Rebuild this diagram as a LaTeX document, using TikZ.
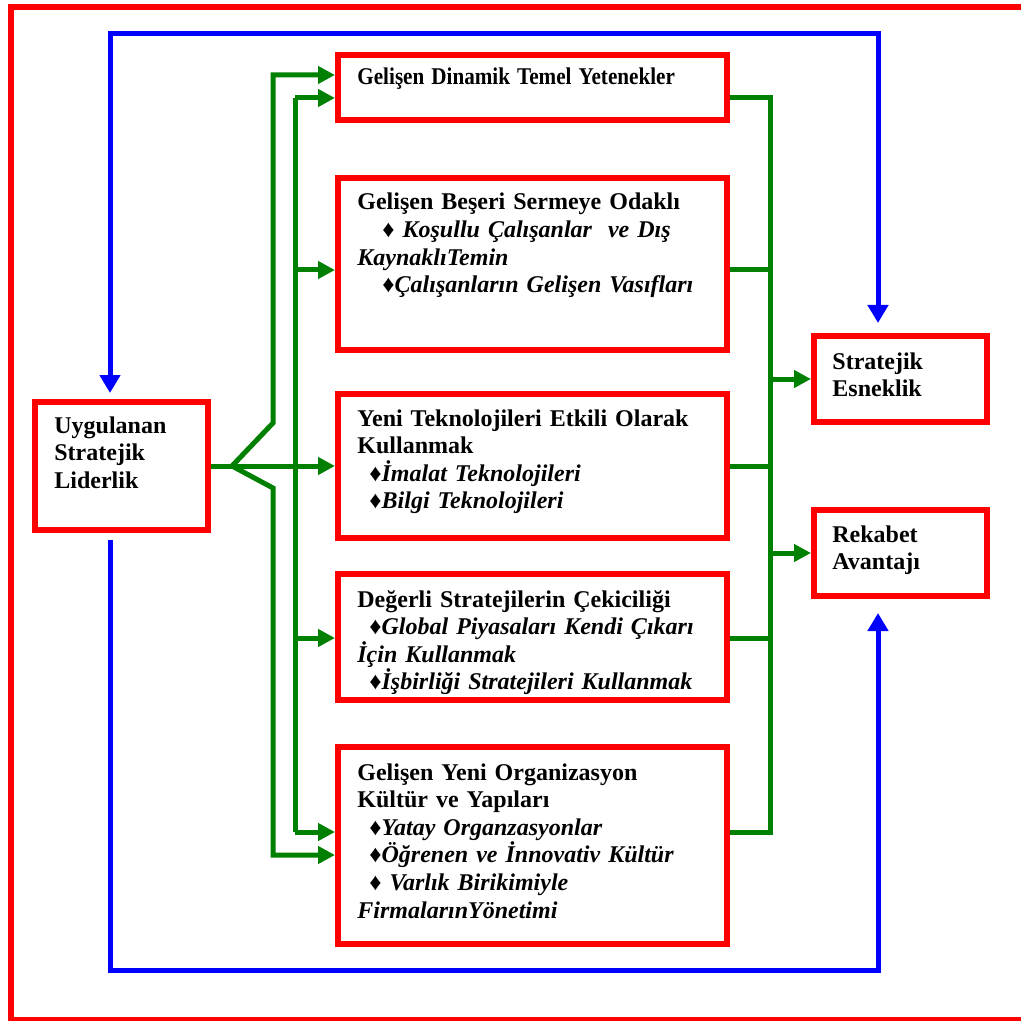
\documentclass[tikz,border=0pt]{standalone}
\usepackage{graphicx}
\usepackage{fontspec}
\setmainfont{Liberation Serif}
\usetikzlibrary{arrows.meta}
\definecolor{gr}{RGB}{0,128,0}
\begin{document}
\begin{tikzpicture}[x=0.5pt,y=-0.5pt,
  box/.style={draw=red,line width=3pt,minimum width=194.5pt,inner sep=0pt},
  sbox/.style={box,minimum width=86.5pt},
  gline/.style={draw=gr,line width=2.5pt},
  gtip/.style={gline,-{Triangle[length=8.5pt,width=8.5pt]}},
  bline/.style={draw=blue,line width=2.5pt},
  txt/.style={anchor=base west,inner sep=0pt,text width=185pt,align=left,
    font=\fontsize{12pt}{13.8pt}\selectfont\bfseries},
  stxt/.style={txt,text width=75pt}]
\useasboundingbox (0,0) rectangle (1021,1021);
% outer frame
\draw[red,line width=3pt] (1035,7) -- (11,7) -- (11,1020) -- (1035,1020);
% boxes
\node[box,minimum height=32.5pt] (b1) at (532.5,87.5) {};
\node[box,minimum height=86pt] (b2) at (532.5,264) {};
\node[box,minimum height=72pt] (b3) at (532.5,466) {};
\node[box,minimum height=63pt] (b4) at (532.5,637) {};
\node[box,minimum height=98.5pt] (b5) at (532.5,845.5) {};
\node[sbox,minimum height=64pt] (lb) at (121.5,466) {};
\node[sbox,minimum height=43pt] (sb) at (900.5,379) {};
\node[sbox,minimum height=43pt] (rb) at (900.5,553) {};
% texts
\node[txt] (t1) at (357,85) {\scalebox{0.881}[1]{Gelişen Dinamik Temel Yetenekler}};
\node[txt] (t2) at (357,210) {Gelişen Beşeri Sermeye Odaklı\\
  \hspace*{12.5pt}♦\textit{ Koşullu Çalışanlar\ \ ve Dış}\\
  \textit{KaynaklıTemin}\\
  \hspace*{12.5pt}♦\textit{Çalışanların Gelişen Vasıfları}};
\node[txt] (t3) at (357,426) {Yeni Teknolojileri Etkili Olarak\\
  Kullanmak\\
  \hspace*{6pt}♦\textit{İmalat Teknolojileri}\\
  \hspace*{6pt}♦\textit{Bilgi Teknolojileri}};
\node[txt] (t4) at (357,607) {Değerli Stratejilerin Çekiciliği\\
  \hspace*{6pt}♦\textit{Global Piyasaları Kendi Çıkarı}\\
  \textit{İçin Kullanmak}\\
  \hspace*{6pt}♦\textit{İşbirliği Stratejileri Kullanmak}};
\node[txt] (t5) at (357,780) {Gelişen Yeni Organizasyon\\
  Kültür ve Yapıları\\
  \hspace*{6pt}♦\textit{Yatay Organzasyonlar}\\
  \hspace*{6pt}♦\textit{Öğrenen ve İnnovativ Kültür}\\
  \hspace*{6pt}♦\textit{ Varlık Birikimiyle}\\
  \textit{FirmalarınYönetimi}};
\node[stxt] (tl1) at (54,433) {Uygulanan\\Stratejik\\Liderlik};
\node[stxt] (ts) at (832,369) {Stratejik\\Esneklik};
\node[stxt] (tr) at (832,542) {Rekabet\\Avantajı};
% coordinates
\coordinate (fork) at (232,466);
\coordinate (ou) at (273,423);
\coordinate (od) at (273,488);
\coordinate (o1) at (273,75);
\coordinate (o5) at (273,855);
\coordinate (i1) at (295,98);
\coordinate (i2) at (295,270);
\coordinate (i4) at (295,638);
\coordinate (i5) at (295,832);
\coordinate (r1) at (770,98);
\coordinate (r2) at (770,270);
\coordinate (r3) at (770,466);
\coordinate (r4) at (770,638);
\coordinate (r5) at (770,832);
\coordinate (rs) at (770,379);
\coordinate (rr) at (770,553);
\coordinate (ctl) at (110,34);
\coordinate (ctr) at (878,34);
\coordinate (cbl) at (110,970);
\coordinate (cbr) at (878,970);
% green left
\draw[gline] (lb.east) -- (fork);
\draw[gtip] (fork) -- (b3.west);
\draw[gtip] (fork) -- (ou) -- (o1) -- (b1.west |- o1);
\draw[gtip] (fork) -- (od) -- (o5) -- (b5.west |- o5);
\draw[gline] (i1) -- (i5);
\draw[gtip] (i1) -- (b1.west |- i1);
\draw[gtip] (i2) -- (b2.west |- i2);
\draw[gtip] (i4) -- (b4.west |- i4);
\draw[gtip] (i5) -- (b5.west |- i5);
% green right
\draw[gline] (b1.east |- r1) -- (r1) -- (r5) -- (b5.east |- r5);
\draw[gline] (b2.east |- r2) -- (r2);
\draw[gline] (b3.east |- r3) -- (r3);
\draw[gline] (b4.east |- r4) -- (r4);
\draw[gtip] (rs) -- (sb.west);
\draw[gtip] (rr) -- (rb.west);
% blue
\draw[bline,{Triangle[length=9pt,width=10pt]}-{Triangle[length=9pt,width=10pt]},
  shorten <=3pt, shorten >=5pt] (lb.north -| ctl) -- (ctl) -- (ctr) -- (sb.north -| ctr);
\draw[bline,-{Triangle[length=9pt,width=10pt]}, shorten <=3.5pt, shorten >=7pt]
  (lb.south -| cbl) -- (cbl) -- (cbr) -- (rb.south -| cbr);
\end{tikzpicture}
\end{document}
